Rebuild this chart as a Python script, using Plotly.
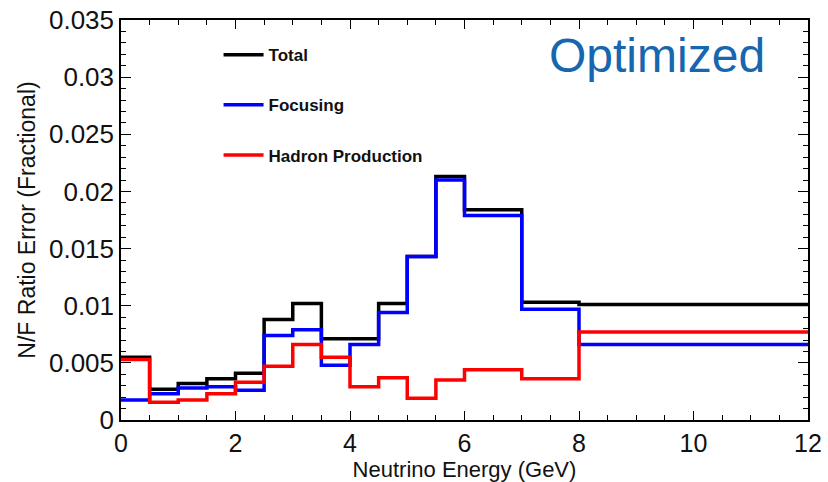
import plotly.graph_objects as go

# ---- data ----
bin_edges = [0, 0.5, 1, 1.5, 2, 2.5, 3, 3.5, 4, 4.5, 5, 5.5, 6, 7, 8, 12]
total = [0.0055, 0.0027, 0.0032, 0.0036, 0.0041, 0.0088, 0.0102, 0.0071,
         0.0071, 0.0102, 0.0143, 0.0213, 0.0184, 0.0103, 0.0101]
focusing = [0.00175, 0.0023, 0.0028, 0.0029, 0.0026, 0.0074, 0.0079, 0.0048,
            0.0066, 0.0094, 0.0143, 0.0210, 0.0179, 0.0097, 0.0066]
hadron = [0.0053, 0.00155, 0.00175, 0.0023, 0.0033, 0.0047, 0.0066, 0.0055,
          0.0029, 0.0037, 0.0019, 0.0035, 0.0044, 0.0036, 0.0077]
series_names = ["Total", "Focusing", "Hadron Production"]
series_colors = ["#000000", "#0000ff", "#ff0000"]
y_tickvals = [0, 0.005, 0.01, 0.015, 0.02, 0.025, 0.03, 0.035]
y_ticktext = ["0", "0.005", "0.01", "0.015", "0.02", "0.025", "0.03", "0.035"]
x_tickvals = [0, 2, 4, 6, 8, 10, 12]

FONT = "Liberation Sans, Arial, Helvetica, sans-serif"

fig = go.Figure()
for name, vals, col in zip(series_names, [total, focusing, hadron], series_colors):
    fig.add_trace(go.Scatter(
        x=bin_edges,
        y=list(vals) + [vals[-1]],
        mode="lines",
        line=dict(shape="hv", color=col, width=3.5),
        name=name,
        legendgroup=name,
    ))

axis_common = dict(
    showline=True, linecolor="black", linewidth=1.5, mirror="ticks",
    ticks="inside", tickcolor="black", tickwidth=1.2,
    showgrid=False, zeroline=False, automargin=False,
)

fig.update_xaxes(
    range=[0, 12], tickvals=x_tickvals, ticklen=9,
    tickfont=dict(family=FONT, size=25, color="#111"),
    minor=dict(ticks="inside", dtick=0.5, ticklen=5, tickcolor="black", showgrid=False),
    title=dict(text="Neutrino Energy (GeV)", font=dict(family=FONT, size=22, color="#111"), standoff=7),
    **axis_common,
)
fig.update_yaxes(
    range=[0, 0.035], tickvals=y_tickvals, ticktext=y_ticktext, ticklen=10,
    tickfont=dict(family=FONT, size=26, color="#111"),
    minor=dict(ticks="inside", dtick=0.001, ticklen=5, tickcolor="black", showgrid=False),
    title=dict(text="N/F Ratio Error (Fractional)", font=dict(family=FONT, size=23, color="#111"), standoff=7),
    **axis_common,
)

fig.add_annotation(
    text="Optimized", xref="paper", yref="paper", x=0.780, y=0.91,
    xanchor="center", yanchor="middle", showarrow=False,
    font=dict(family=FONT, size=48, color="#1766b0"),
)

fig.update_layout(
    width=828, height=482,
    margin=dict(l=121, r=20, t=20, b=62),
    paper_bgcolor="white", plot_bgcolor="white",
    showlegend=True,
    legend=dict(
        x=0.142, y=0.957, xanchor="left", yanchor="top",
        bgcolor="rgba(0,0,0,0)", borderwidth=0,
        font=dict(family=FONT, size=17, color="#111", weight="bold"),
        tracegroupgap=25, itemwidth=40,
    ),
)

fig.write_html("out.html")
